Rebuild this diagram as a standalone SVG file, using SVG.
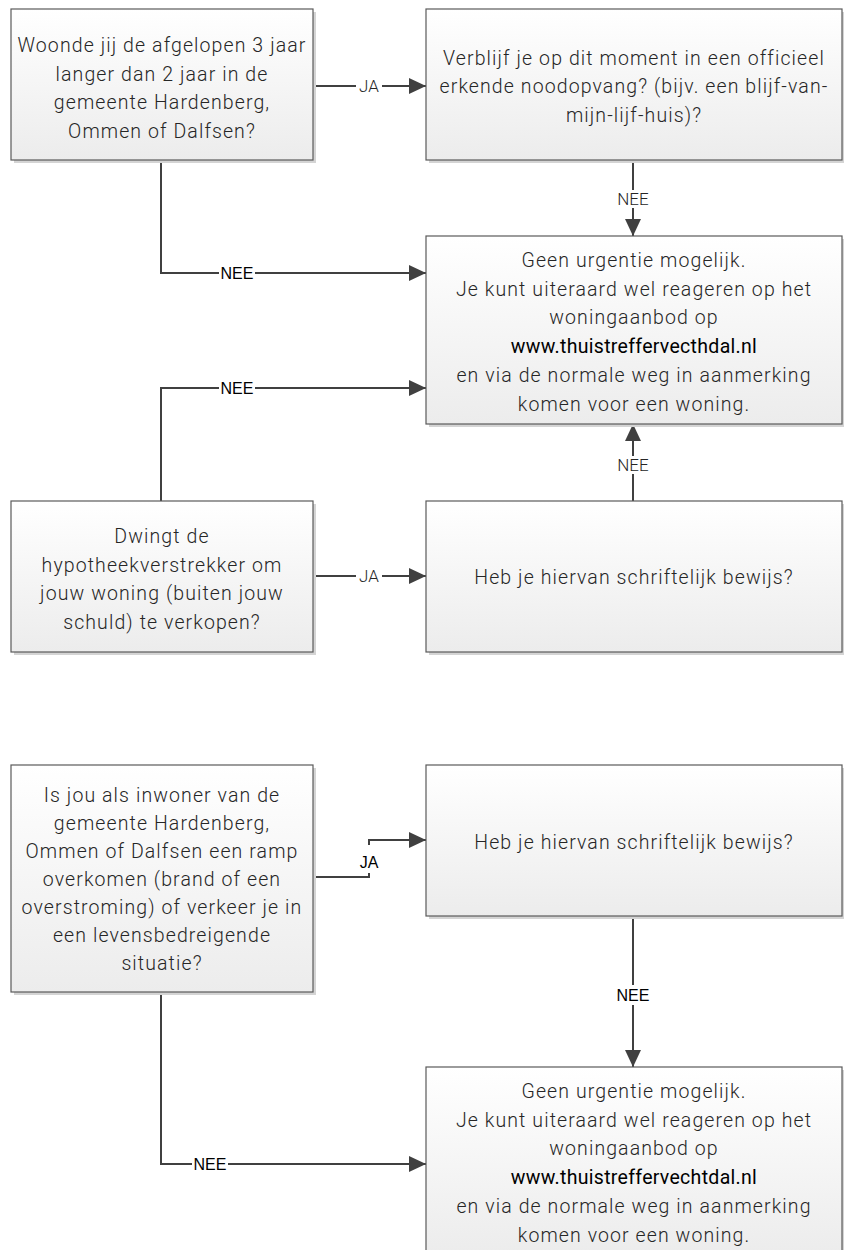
<svg xmlns="http://www.w3.org/2000/svg" width="844" height="1250" viewBox="0 0 844 1250">
<defs>
<linearGradient id="g" x1="0" y1="0" x2="0" y2="1">
<stop offset="0" stop-color="#ffffff"/>
<stop offset="1" stop-color="#ececec"/>
</linearGradient>
<marker id="arr" markerUnits="userSpaceOnUse" markerWidth="18" markerHeight="16" refX="17" refY="8" orient="auto">
<path d="M0,0 L17,8 L0,16 Z" fill="#404040"/>
</marker>
</defs>
<style>
.box{fill:url(#g);stroke:#5a5a5a;stroke-width:1.2}
.sh{fill:#d4d4d4}
.t{font-family:Roboto,"Liberation Sans",sans-serif;font-weight:300;font-size:19.5px;letter-spacing:1.1px;fill:#262626;text-anchor:middle}
.u{font-family:Roboto,"Liberation Sans",sans-serif;font-weight:400;font-size:19.5px;fill:#000;text-anchor:middle;letter-spacing:0.3px}
.c{fill:none;stroke:#404040;stroke-width:2}
.lb{fill:#fff}
.l1{font-family:Roboto,"Liberation Sans",sans-serif;font-weight:300;font-size:17px;fill:#262626;text-anchor:middle}
.l2{font-family:"Liberation Sans",sans-serif;font-size:16px;fill:#000;text-anchor:middle}
</style>

<g id="connectors">
<line class="c" x1="313" y1="86" x2="426" y2="86" marker-end="url(#arr)"/>
<polyline class="c" points="633,160 633,236" marker-end="url(#arr)"/>
<polyline class="c" points="161,160 161,273 426,273" marker-end="url(#arr)"/>
<polyline class="c" points="161,501 161,388 426,388" marker-end="url(#arr)"/>
<line class="c" x1="313" y1="576" x2="426" y2="576" marker-end="url(#arr)"/>
<polyline class="c" points="633,501 633,424" marker-end="url(#arr)"/>
<polyline class="c" points="313,877 369,877 369,840 426,840" marker-end="url(#arr)"/>
<polyline class="c" points="633,916 633,1067" marker-end="url(#arr)"/>
<polyline class="c" points="161,992 161,1164 426,1164" marker-end="url(#arr)"/>
<line class="c" x1="842" y1="86" x2="844" y2="86"/>
<line class="c" x1="842" y1="576" x2="844" y2="576"/>
<line class="c" x1="842" y1="840" x2="844" y2="840"/>
<rect class="lb" x="356" y="77" width="26" height="18"/>
<text class="l1" x="369" y="92">JA</text>
<rect class="lb" x="356" y="567" width="26" height="18"/>
<text class="l1" x="369" y="582">JA</text>
<rect class="lb" x="618" y="190" width="30" height="18"/>
<text class="l1" x="633" y="205">NEE</text>
<rect class="lb" x="618" y="456" width="30" height="18"/>
<text class="l1" x="633" y="471">NEE</text>
<rect class="lb" x="219" y="264" width="36" height="18"/>
<text class="l2" x="237" y="279">NEE</text>
<rect class="lb" x="219" y="379" width="36" height="18"/>
<text class="l2" x="237" y="394">NEE</text>
<rect class="lb" x="359" y="845" width="20" height="28"/>
<text class="l2" x="369" y="868">JA</text>
<rect class="lb" x="615" y="985" width="36" height="20"/>
<text class="l2" x="633" y="1001">NEE</text>
<rect class="lb" x="192" y="1155" width="36" height="18"/>
<text class="l2" x="210" y="1170">NEE</text>
</g>

<g id="n1">
<rect class="sh" x="14" y="12" width="302" height="151"/>
<rect class="box" x="11" y="9" width="302" height="151"/>
<text class="t" x="162" y="52">Woonde jij de afgelopen 3 jaar</text>
<text class="t" x="162" y="80.5">langer dan 2 jaar in de</text>
<text class="t" x="162" y="109">gemeente Hardenberg,</text>
<text class="t" x="162" y="137.5">Ommen of Dalfsen?</text>
</g>

<g id="n2">
<rect class="sh" x="429" y="12" width="416" height="151"/>
<rect class="box" x="426" y="9" width="416" height="151"/>
<text class="t" x="634" y="64.5">Verblijf je op dit moment in een officieel</text>
<text class="t" x="634" y="93">erkende noodopvang? (bijv. een blijf-van-</text>
<text class="t" x="634" y="121.5">mijn-lijf-huis)?</text>
</g>

<g id="n3">
<rect class="sh" x="429" y="239" width="416" height="188"/>
<rect class="box" x="426" y="236" width="416" height="188"/>
<text class="t" x="634" y="266.5">Geen urgentie mogelijk.</text>
<text class="t" x="634" y="295.5">Je kunt uiteraard wel reageren op het</text>
<text class="t" x="634" y="324">woningaanbod op</text>
<text class="u" x="634" y="353">www.thuistreffervecthdal.nl</text>
<text class="t" x="634" y="382">en via de normale weg in aanmerking</text>
<text class="t" x="634" y="410.5">komen voor een woning.</text>
</g>

<g id="n4">
<rect class="sh" x="14" y="504" width="302" height="151"/>
<rect class="box" x="11" y="501" width="302" height="151"/>
<text class="t" x="162" y="543">Dwingt de</text>
<text class="t" x="162" y="571.5">hypotheekverstrekker om</text>
<text class="t" x="162" y="600">jouw woning (buiten jouw</text>
<text class="t" x="162" y="628.5">schuld) te verkopen?</text>
</g>

<g id="n5">
<rect class="sh" x="429" y="504" width="416" height="151"/>
<rect class="box" x="426" y="501" width="416" height="151"/>
<text class="t" x="634" y="584">Heb je hiervan schriftelijk bewijs?</text>
</g>

<g id="n6">
<rect class="sh" x="14" y="768" width="302" height="227"/>
<rect class="box" x="11" y="765" width="302" height="227"/>
<text class="t" x="162" y="802">Is jou als inwoner van de</text>
<text class="t" x="162" y="830">gemeente Hardenberg,</text>
<text class="t" x="162" y="858">Ommen of Dalfsen een ramp</text>
<text class="t" x="162" y="886">overkomen (brand of een</text>
<text class="t" x="162" y="914">overstroming) of verkeer je in</text>
<text class="t" x="162" y="942">een levensbedreigende</text>
<text class="t" x="162" y="970">situatie?</text>
</g>

<g id="n7">
<rect class="sh" x="429" y="768" width="416" height="151"/>
<rect class="box" x="426" y="765" width="416" height="151"/>
<text class="t" x="634" y="849">Heb je hiervan schriftelijk bewijs?</text>
</g>

<g id="n8">
<rect class="sh" x="429" y="1070" width="416" height="188"/>
<rect class="box" x="426" y="1067" width="416" height="188"/>
<text class="t" x="634" y="1097.5">Geen urgentie mogelijk.</text>
<text class="t" x="634" y="1126.5">Je kunt uiteraard wel reageren op het</text>
<text class="t" x="634" y="1155">woningaanbod op</text>
<text class="u" x="634" y="1184">www.thuistreffervechtdal.nl</text>
<text class="t" x="634" y="1213">en via de normale weg in aanmerking</text>
<text class="t" x="634" y="1241.5">komen voor een woning.</text>
</g>
</svg>
